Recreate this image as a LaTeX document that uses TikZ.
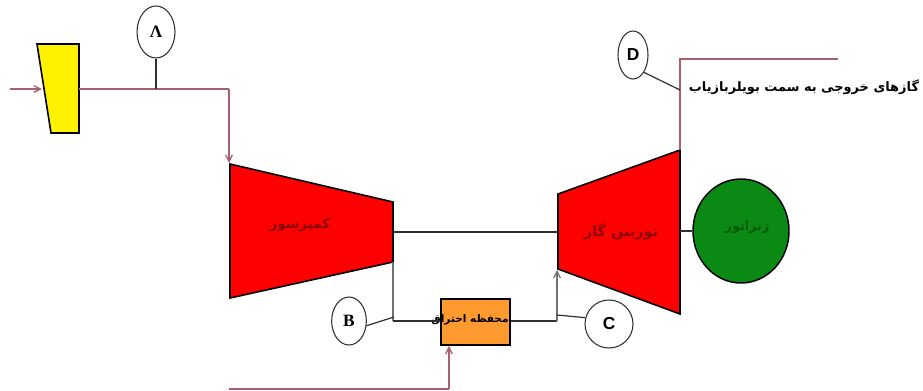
\documentclass[tikz,border=0pt]{standalone}
\usepackage{fontspec}
\usetikzlibrary{arrows.meta,shapes.geometric}
\setmainfont{Liberation Sans}
\newfontfamily\arabicfont[Script=Arabic]{DejaVu Sans}
\newfontfamily\serifbody{Liberation Serif}
\TeXXeTstate=1
\definecolor{pipe}{HTML}{A8606E}
\definecolor{wire}{HTML}{303030}
\definecolor{greywire}{HTML}{707070}
\definecolor{redbody}{HTML}{FF0000}
\definecolor{orangebody}{HTML}{FF9A2E}
\definecolor{greenbody}{HTML}{0A8A14}
\definecolor{redtext}{HTML}{8A0808}
\definecolor{greentext}{HTML}{045A08}
\tikzset{
  x=0.75pt,y=-0.75pt,
  pipeline/.style={draw=pipe,line width=1pt},
  pipearrow/.style={pipeline,-{Straight Barb[length=5pt,width=5pt]}},
  wireline/.style={draw=wire,line width=0.9pt},
  greyline/.style={draw=greywire,line width=0.9pt},
  body/.style={draw=black,line width=1.2pt,line join=miter},
  tag/.style={ellipse,draw=wire,fill=white,line width=0.8pt,inner sep=0pt,font=\bfseries\fontsize{13}{13}\selectfont},
  persian/.style={inner sep=0pt,font=\arabicfont\bfseries\fontsize{8.5}{10}\selectfont},
}
\begin{document}
\begin{tikzpicture}
\useasboundingbox (0,0) rectangle (923,390);
% named points
\coordinate (inA) at (10,89);
\coordinate (inB) at (42,89);
\coordinate (filtOut) at (79,89);
\coordinate (tapA) at (156,89);
\coordinate (bendA) at (229,89);
\coordinate (compIn) at (229,163);
\coordinate (shaftA) at (393,232);
\coordinate (shaftB) at (557,232);
\coordinate (compOut) at (393,262);
\coordinate (bendB) at (393,321);
\coordinate (tapB) at (394,317);
\coordinate (bendC) at (557,321);
\coordinate (turbIn) at (557,270);
\coordinate (tapC) at (557,315);
\coordinate (turbOut) at (680,150);
\coordinate (bendD) at (680,59);
\coordinate (exhEnd) at (838,59);
\coordinate (tapD) at (680,90);
\coordinate (turbShaft) at (680,231);
\coordinate (fuelA) at (229,389);
\coordinate (fuelB) at (449,389);
% filter
\draw[body,fill=yellow] (37,44) -- (79,44) -- (79,133) -- (51,133) -- cycle;
% compressor
\draw[body,fill=redbody] (230,164) -- (393,202) -- (393,262) -- (230,298) -- cycle;
% turbine
\draw[body,fill=redbody] (558,194) -- (680,150) -- (680,314) -- (558,269) -- cycle;
% nodes
\node[persian,font=\arabicfont\bfseries\fontsize{10.2}{12}\selectfont,text=redtext] (compT) at (300,225) {\beginR کمپرسور\endR};
\node[persian,font=\arabicfont\bfseries\fontsize{10.8}{12}\selectfont,text=redtext] (turbT) at (621,232) {\beginR توربین گاز\endR};
\node[ellipse,draw=black,line width=1.1pt,fill=greenbody,minimum width=72pt,minimum height=78pt,inner sep=0pt] (gen) at (741,231) {};
\node[persian,font=\arabicfont\bfseries\fontsize{9.6}{11}\selectfont,text=greentext] (genT) at (747,227) {\beginR ژنراتور\endR};
\node[draw=black,line width=1.3pt,fill=orangebody,minimum width=51.75pt,minimum height=34.5pt,inner sep=0pt] (comb) at (475.5,322) {};
\node[persian,font=\arabicfont\bfseries\fontsize{7.9}{10}\selectfont] (combT) at (470,320) {\beginR محفظه احتراق\endR};
\node[persian,font=\arabicfont\bfseries\fontsize{9.7}{11}\selectfont] (exhT) at (804,87) {\beginR گازهای خروجی به سمت بویلربازیاب\endR};
\node[tag,minimum width=28.5pt,minimum height=39pt] (tagA) at (156,32) {\serifbody Λ};
\node[tag,minimum width=26pt,minimum height=36pt,font=\serifbody\bfseries\fontsize{13}{13}\selectfont] (tagB) at (349,321) {B};
\node[tag,minimum width=36pt,minimum height=36pt] (tagC) at (609,324) {C};
\node[tag,minimum width=22.5pt,minimum height=36pt] (tagD) at (633,55) {D};
% connectors
\draw[pipearrow] (inA) -- (inB);
\draw[pipeline] (filtOut) -- (bendA);
\draw[pipearrow] (bendA) -- (compIn);
\draw[wireline] (tagA.south) -- (tapA);
\draw[wireline] (shaftA) -- (shaftB);
\draw[greyline] (compOut) -- (bendB);
\draw[wireline] (bendB) -- (bendB -| comb.west);
\draw[wireline] (tagB.-15) -- (tapB);
\draw[wireline] (bendC -| comb.east) -- (bendC);
\draw[greyline,-{Straight Barb[length=5pt,width=5pt]}] (bendC) -- (turbIn);
\draw[wireline] (tapC) -- (tagC.165);
\draw[pipeline] (turbOut) -- (bendD) -- (exhEnd);
\draw[wireline] (tagD.south east) -- (tapD);
\draw[wireline] (turbShaft) -- (gen.west);
\draw[pipeline] (fuelA) -- (fuelB);
\draw[pipearrow] (fuelB) -- (fuelB |- comb.south);
\end{tikzpicture}
\end{document}
